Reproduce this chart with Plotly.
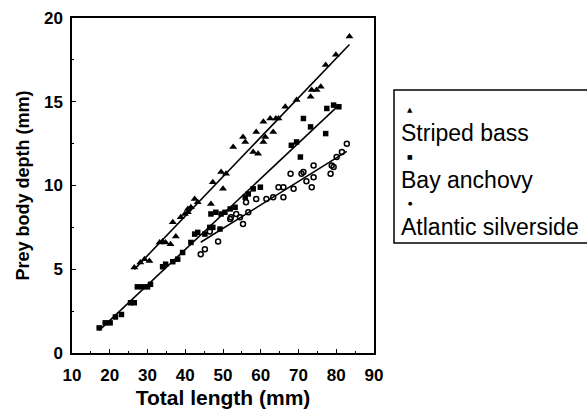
import numpy as np
import plotly.graph_objects as go

# ---- data ----
bass_x = [26.5, 28.1, 29.2, 30.5, 33.2, 34.0, 34.8, 36.1, 37.5, 36.7, 38.8, 39.9, 40.7, 41.5,
          43.3, 42.5, 40.7, 46.8, 47.3, 50.0, 49.5, 50.8, 52.7, 55.3, 55.9, 58.0, 59.3, 58.8,
          60.7, 61.2, 60.7, 62.5, 63.3, 64.0, 64.7, 66.5, 69.5, 73.2, 73.5, 74.8, 75.9, 77.2,
          79.9, 83.5]
bass_y = [5.1, 5.4, 5.6, 5.5, 6.6, 6.65, 6.6, 6.5, 6.95, 7.8, 8.1, 8.3, 8.4, 8.7,
          9.0, 9.2, 8.6, 8.9, 10.2, 9.8, 10.8, 10.7, 12.3, 12.9, 12.6, 12.0, 11.9, 13.2,
          12.6, 12.9, 13.8, 14.0, 13.2, 14.0, 14.0, 14.7, 15.1, 15.3, 15.7, 15.7, 15.9, 17.2,
          17.8, 18.9]

anchovy_x = [17.2, 18.8, 20.1, 21.5, 23.1, 25.5, 26.5, 27.3, 28.7, 30.0, 30.8, 34.0, 34.8,
             36.7, 38.0, 39.3, 41.5, 42.5, 43.3, 45.2, 46.5, 47.3, 49.2, 46.8, 48.1, 49.5,
             50.5, 51.9, 53.2, 55.9, 56.7, 58.0, 59.9, 68.1, 69.5, 70.5, 71.3, 73.2, 77.2,
             77.5, 79.3, 80.7]
anchovy_y = [1.5, 1.8, 1.8, 2.15, 2.3, 3.0, 3.0, 3.95, 3.95, 3.95, 4.1, 5.15, 5.3,
             5.45, 5.6, 6.0, 6.6, 7.1, 7.2, 7.1, 7.5, 7.5, 7.4, 8.3, 8.4, 8.3,
             8.4, 8.6, 8.7, 9.3, 9.5, 9.8, 9.9, 12.4, 12.6, 11.7, 14.0, 13.5, 13.1,
             14.6, 14.8, 14.7]

silver_x = [44.1, 45.2, 46.5, 48.7, 51.9, 52.1, 53.5, 54.5, 55.3, 56.1, 56.7, 58.8, 61.5,
            63.3, 64.7, 66.0, 66.0, 67.9, 68.7, 70.8, 71.3, 72.1, 73.5, 74.0, 74.0, 78.5,
            78.8, 79.3, 80.1, 81.5, 82.8]
silver_y = [5.9, 6.2, 7.25, 6.65, 8.0, 8.1, 8.3, 8.1, 7.7, 9.0, 8.4, 9.2, 9.2,
            9.3, 9.9, 9.3, 9.9, 10.7, 9.8, 10.7, 10.8, 10.25, 9.9, 11.2, 10.5, 10.7,
            11.2, 11.1, 11.7, 12.0, 12.5]

species = ["Striped bass", "Bay anchovy", "Atlantic silverside"]
x_ticks = [10, 20, 30, 40, 50, 60, 70, 80, 90]
y_ticks = [0, 5, 10, 15, 20]

# ---- layout geometry (pixels) ----
W, H = 587, 413
L, R, T, B = 72, 374, 18, 353
FONT = "Liberation Sans, Arial, sans-serif"


def px_to_paper(px, py):
    return (px - L) / (R - L), (B - py) / (B - T)


fig = go.Figure()

series = [
    (bass_x, bass_y, dict(symbol="triangle-up", size=7, color="black")),
    (anchovy_x, anchovy_y, dict(symbol="square", size=5.5, color="black")),
    (silver_x, silver_y, dict(symbol="circle-open", size=5, color="black", line=dict(width=1.5))),
]

for (xs, ys, mk), name in zip(series, species):
    xs = np.array(xs)
    ys = np.array(ys)
    fig.add_trace(go.Scatter(x=xs, y=ys, mode="markers", marker=mk, name=name, showlegend=False))
    slope, icpt = np.polyfit(xs, ys, 1)
    lx = np.array([xs.min(), xs.max()])
    fig.add_trace(go.Scatter(x=lx, y=slope * lx + icpt, mode="lines",
                             line=dict(color="black", width=1.6), showlegend=False,
                             hoverinfo="skip"))

# legend box (manual: marker above label)
x0, y0 = px_to_paper(394, 243)
x1, y1 = px_to_paper(600, 90)
fig.add_shape(type="rect", xref="paper", yref="paper", x0=x0, x1=x1, y0=y0, y1=y1,
              line=dict(color="black", width=1.5), fillcolor="white")

leg_markers = ["▲", "■", "●"]
leg_marker_sizes = [7, 6, 5]
marker_py = [110, 156, 203]
label_py = [133, 180, 227]
for name, sym, msz, mpy, lpy in zip(species, leg_markers, leg_marker_sizes, marker_py, label_py):
    mx, my = px_to_paper(410, mpy)
    fig.add_annotation(x=mx, y=my, xref="paper", yref="paper", text=sym, showarrow=False,
                       font=dict(size=msz, color="black", family="DejaVu Sans"),
                       xanchor="center", yanchor="middle")
    tx, ty = px_to_paper(399, lpy)
    fig.add_annotation(x=tx, y=ty, xref="paper", yref="paper", text=name, showarrow=False,
                       font=dict(size=23, color="black", family=FONT),
                       xanchor="left", yanchor="middle")

axis_common = dict(showline=True, linecolor="black", linewidth=1.5, mirror=True,
                   ticks="inside", ticklen=4, tickcolor="black", tickwidth=1,
                   showgrid=False, zeroline=False,
                   tickfont=dict(size=17, color="black", family=FONT, weight="bold"))

fig.update_xaxes(range=[10, 90], tickvals=x_ticks, ticktext=[str(v) for v in x_ticks],
                 minor=dict(ticks="inside", ticklen=2, dtick=5, tickcolor="black"),
                 ticklabelstandoff=6,
                 title=dict(text="Total length (mm)", standoff=6,
                            font=dict(size=21, color="black", family=FONT, weight="bold")),
                 **axis_common)
fig.update_yaxes(range=[0, 20], tickvals=y_ticks, ticktext=[str(v) for v in y_ticks],
                 minor=dict(ticks="inside", ticklen=2, dtick=2.5, tickcolor="black"),
                 ticklabelstandoff=4,
                 title=dict(text="Prey body depth (mm)", standoff=10,
                            font=dict(size=18, color="black", family=FONT, weight="bold")),
                 **axis_common)

fig.update_layout(width=W, height=H, autosize=False,
                  margin=dict(l=L, r=W - R, t=T, b=H - B, autoexpand=False),
                  paper_bgcolor="white", plot_bgcolor="white", showlegend=False)

fig.write_html("out.html")
